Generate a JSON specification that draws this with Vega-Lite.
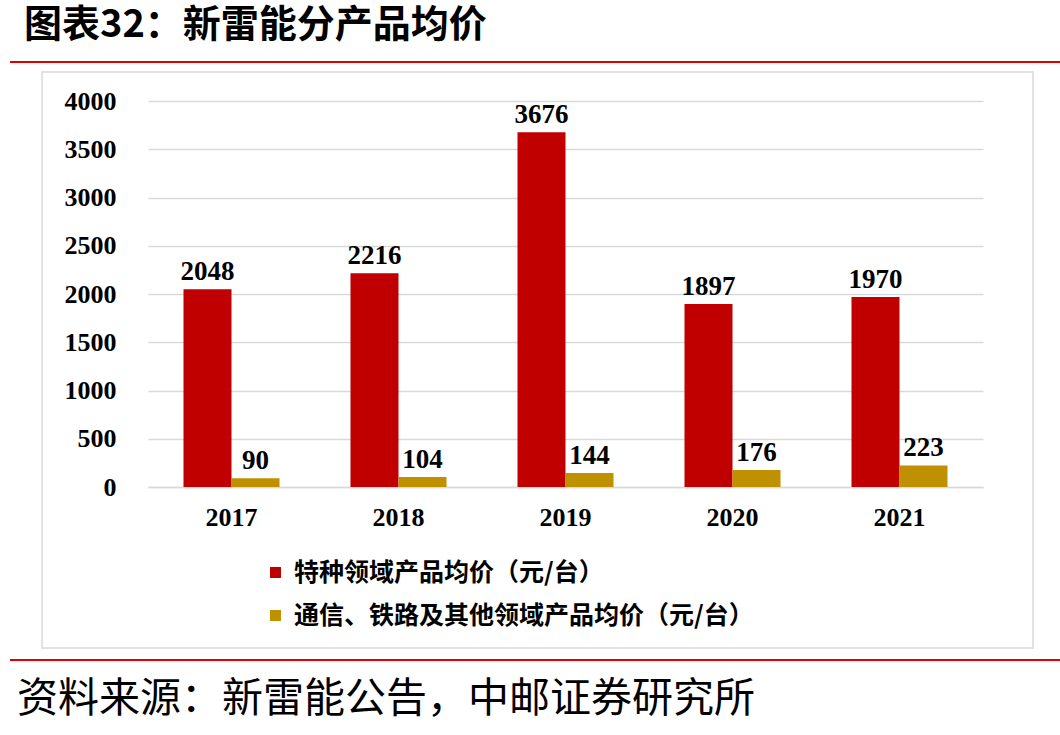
{
  "$schema": "https://vega.github.io/schema/vega-lite/v6.json",
  "width": 835,
  "height": 386,
  "autosize": {"type": "none"},
  "padding": {"left": 148, "top": 101, "right": 77, "bottom": 248},
  "background": "white",
  "config": {"view": {"stroke": null}},
  "title": {
    "text": "图表32：新雷能分产品均价",
    "anchor": "start", "frame": "bounds", "orient": "top",
    "font": "Noto Sans CJK SC", "fontWeight": "bold", "fontSize": 38, "color": "black",
    "offset": 16, "dx": 15
  },
  "datasets": {
    "prices": [
      {"year": "2017", "series": "特种领域产品均价（元/台）", "value": 2048},
      {"year": "2018", "series": "特种领域产品均价（元/台）", "value": 2216},
      {"year": "2019", "series": "特种领域产品均价（元/台）", "value": 3676},
      {"year": "2020", "series": "特种领域产品均价（元/台）", "value": 1897},
      {"year": "2021", "series": "特种领域产品均价（元/台）", "value": 1970},
      {"year": "2017", "series": "通信、铁路及其他领域产品均价（元/台）", "value": 90},
      {"year": "2018", "series": "通信、铁路及其他领域产品均价（元/台）", "value": 104},
      {"year": "2019", "series": "通信、铁路及其他领域产品均价（元/台）", "value": 144},
      {"year": "2020", "series": "通信、铁路及其他领域产品均价（元/台）", "value": 176},
      {"year": "2021", "series": "通信、铁路及其他领域产品均价（元/台）", "value": 223}
    ],
    "deco": [{"source": "资料来源：新雷能公告，中邮证券研究所"}]
  },
  "layer": [
    {
      "data": {"name": "deco"},
      "mark": {"type": "rect", "fill": null, "stroke": "#d9d9d9", "strokeWidth": 1.5},
      "encoding": {
        "x": {"value": -106}, "x2": {"value": 885},
        "y": {"value": -29}, "y2": {"value": 547}
      }
    },
    {
      "data": {"name": "deco"},
      "mark": {"type": "rule", "stroke": "#e00000", "strokeWidth": 2},
      "encoding": {"x": {"value": -138}, "x2": {"value": 912}, "y": {"value": -39}}
    },
    {
      "data": {"name": "deco"},
      "mark": {"type": "rule", "stroke": "#e00000", "strokeWidth": 2},
      "encoding": {"x": {"value": -138}, "x2": {"value": 912}, "y": {"value": 559}}
    },
    {
      "data": {"name": "deco"},
      "mark": {"type": "text", "align": "left", "baseline": "middle", "font": "Noto Sans CJK SC", "fontWeight": "normal", "fontSize": 41, "fill": "black"},
      "encoding": {"text": {"field": "source"}, "x": {"value": -131}, "y": {"value": 599}}
    },
    {
      "data": {"name": "prices"},
      "mark": {"type": "bar"},
      "encoding": {
        "x": {
          "field": "year", "type": "nominal",
          "scale": {"paddingInner": 0.425, "paddingOuter": 0.2125},
          "axis": {
            "title": null, "labelAngle": 0, "ticks": false,
            "domain": true, "domainColor": "#d9d9d9", "domainWidth": 1.5,
            "labelFont": "Liberation Serif", "labelFontWeight": "bold", "labelFontSize": 26,
            "labelColor": "black", "labelPadding": 17
          }
        },
        "xOffset": {"field": "series", "type": "nominal", "sort": ["特种领域产品均价（元/台）", "通信、铁路及其他领域产品均价（元/台）"]},
        "y": {
          "field": "value", "type": "quantitative",
          "scale": {"domain": [0, 4000], "nice": false},
          "axis": {
            "title": null, "values": [0, 500, 1000, 1500, 2000, 2500, 3000, 3500, 4000], "format": "d",
            "domain": false, "ticks": false, "grid": true, "gridColor": "#d9d9d9", "gridWidth": 1.5,
            "labelFont": "Liberation Serif", "labelFontWeight": "bold", "labelFontSize": 26,
            "labelColor": "black", "labelPadding": 32
          }
        },
        "color": {
          "field": "series", "type": "nominal",
          "scale": {"domain": ["特种领域产品均价（元/台）", "通信、铁路及其他领域产品均价（元/台）"], "range": ["#C00000", "#BF9000"]},
          "legend": {
            "title": null, "orient": "none", "direction": "vertical",
            "legendX": 115, "legendY": 459,
            "symbolType": "square", "symbolSize": 120, "symbolStrokeWidth": 0,
            "labelFont": "Noto Sans CJK SC", "labelFontWeight": "bold", "labelFontSize": 25,
            "labelColor": "black", "labelLimit": 700, "rowPadding": 17, "labelOffset": 6
          }
        }
      }
    },
    {
      "data": {"name": "prices"},
      "mark": {"type": "text", "baseline": "bottom", "dy": -3, "font": "Liberation Serif", "fontWeight": "bold", "fontSize": 27, "fill": "black"},
      "encoding": {
        "x": {"field": "year", "type": "nominal"},
        "xOffset": {"field": "series", "type": "nominal", "sort": ["特种领域产品均价（元/台）", "通信、铁路及其他领域产品均价（元/台）"]},
        "y": {"field": "value", "type": "quantitative"},
        "text": {"field": "value", "type": "quantitative"}
      }
    }
  ]
}
